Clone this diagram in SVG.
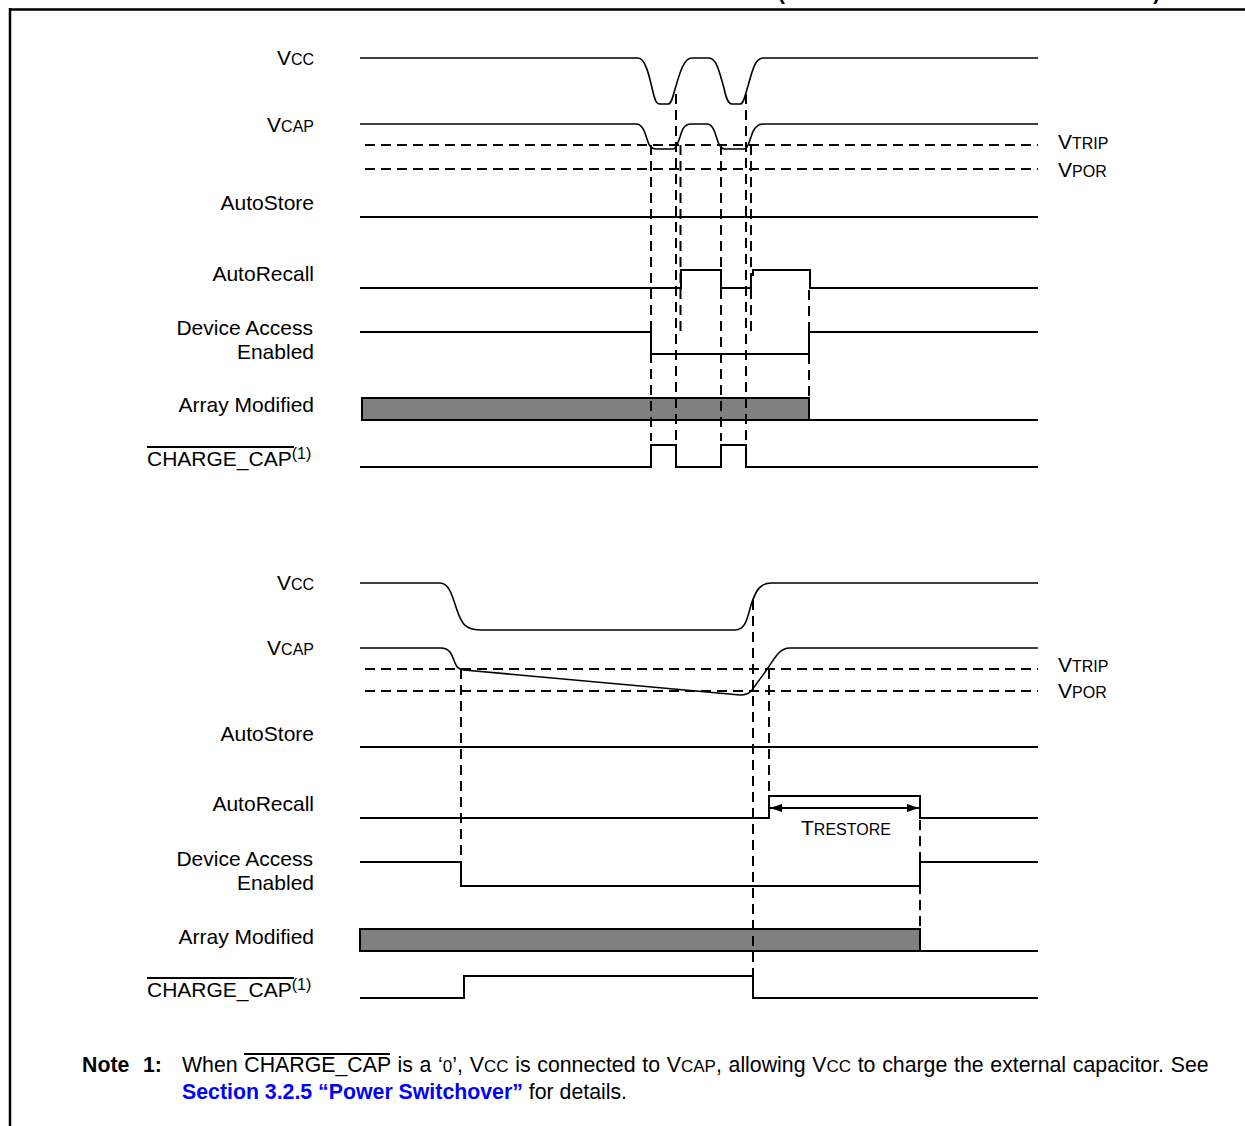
<svg xmlns="http://www.w3.org/2000/svg" width="1245" height="1126" viewBox="0 0 1245 1126">
<style>
text{font-family:"Liberation Sans",Arial,sans-serif;font-size:21px;fill:#000}
.lbl{text-anchor:end}
.sc{font-size:16px}
.w{fill:none;stroke:#000;stroke-width:2}
.cv{fill:none;stroke:#000;stroke-width:1.6}
.dh{fill:none;stroke:#000;stroke-width:2;stroke-dasharray:10 6}
.dv{fill:none;stroke:#000;stroke-width:2;stroke-dasharray:10 6}
.bar{fill:#808080;stroke:#000;stroke-width:2}
.note{font-size:21.3px}
.nsc{font-size:17px}
.b{font-weight:bold}
.blue{fill:#0000ff;font-weight:bold}
</style>
<defs>
<marker id="ah" viewBox="0 0 12 8" refX="12" refY="4" markerWidth="12" markerHeight="8" markerUnits="userSpaceOnUse" orient="auto-start-reverse">
<path d="M0,0 L12,4 L0,8 z" fill="#000"/>
</marker>
</defs>
<rect width="1245" height="1126" fill="#fff"/>
<g id="frame">
<path d="M10,9.5 H1245 M10,8 V1126" fill="none" stroke="#000" stroke-width="2.5"/>
<text x="778" y="0" class="b">(</text>
<text x="1153" y="0" class="b">)</text>
</g>

<!-- labels -->
<g id="labels-top">
<text class="lbl" x="314" y="65">V<tspan class="sc">CC</tspan></text>
<text class="lbl" x="314" y="132">V<tspan class="sc">CAP</tspan></text>
<text class="lbl" x="314" y="210">AutoStore</text>
<text class="lbl" x="314" y="281">AutoRecall</text>
<text class="lbl" x="313" y="335">Device Access</text>
<text class="lbl" x="314" y="359">Enabled</text>
<text class="lbl" x="314" y="412">Array Modified</text>
<text x="147" y="466">CHARGE_CAP<tspan font-size="16" dy="-7">(1)</tspan></text>
<line x1="147" y1="447" x2="294" y2="447" stroke="#000" stroke-width="2"/>
<text x="1058" y="149">V<tspan class="sc">TRIP</tspan></text>
<text x="1058" y="177">V<tspan class="sc">POR</tspan></text>
</g>
<g id="labels-bottom">
<text class="lbl" x="314" y="590">V<tspan class="sc">CC</tspan></text>
<text class="lbl" x="314" y="655">V<tspan class="sc">CAP</tspan></text>
<text class="lbl" x="314" y="741">AutoStore</text>
<text class="lbl" x="314" y="811">AutoRecall</text>
<text class="lbl" x="313" y="866">Device Access</text>
<text class="lbl" x="314" y="890">Enabled</text>
<text class="lbl" x="314" y="944">Array Modified</text>
<text x="147" y="997">CHARGE_CAP<tspan font-size="16" dy="-7">(1)</tspan></text>
<line x1="147" y1="978" x2="294" y2="978" stroke="#000" stroke-width="2"/>
<text x="1058" y="672">V<tspan class="sc">TRIP</tspan></text>
<text x="1058" y="698">V<tspan class="sc">POR</tspan></text>
<text x="801" y="835">T<tspan class="sc">RESTORE</tspan></text>
</g>

<!-- top waveforms -->
<g id="top-vcc"><path class="cv" d="M360,58 H638 C646,58 650,80 653,92 C655,100 656,104 660,104 H668 C672,104 673,95 676,86 C680,72 684,58 692,58 H709 C717,58 720,75 724,88 C726,98 728,104 732,104 H740 C744,104 745,95 748,86 C752,72 755,58 763,58 H1038"/></g>
<g id="top-vcap"><path class="cv" d="M360,124 H636 C643,124 645,133 647,139 C649,146 651,149 656,149 H673 C677,149 678,142 680,137 C682,130 684,124 691,124 H707 C713,124 715,133 717,139 C719,146 721,149 725,149 H744 C748,149 749,142 751,137 C753,130 756,124 763,124 H1038"/></g>
<g id="top-thresholds">
<path class="dh" d="M365,145 H1038"/>
<path class="dh" d="M365,169 H1038"/>
</g>
<g id="top-autostore"><path class="w" d="M360,217 H1038"/></g>
<g id="top-autorecall"><path class="w" d="M360,288 H681 V270 H721 V288 H751 V275 H753 V270 H810 V288 H1038"/></g>
<g id="top-device"><path class="w" d="M360,332 H651 V354 H809 V332 H1038"/></g>
<g id="top-array">
<rect class="bar" x="362" y="398" width="447" height="22"/>
<path class="w" d="M809,420 H1038"/>
</g>
<g id="top-charge"><path class="w" d="M360,467 H651 V445 H676 V467 H721 V445 H746 V467 H1038"/></g>

<!-- bottom waveforms -->
<g id="bot-vcc"><path class="cv" d="M360,583 H440 C449,583 452,595 457,610 C462,625 466,630 482,630 H735 C745,630 747,620 751,605 C756,590 760,583 772,583 H1038"/></g>
<g id="bot-vcap"><path class="cv" d="M360,648 H441 C450,648 452,655 455,663 C457,668 459,669 464,670 L740,695 C746,695 749,694 752,690 L768,668 C775,657 780,648 790,648 H1038"/></g>
<g id="bot-thresholds">
<path class="dh" d="M365,669 H1038"/>
<path class="dh" d="M365,691 H1038"/>
</g>
<g id="bot-autostore"><path class="w" d="M360,747 H1038"/></g>
<g id="bot-autorecall"><path class="w" d="M360,818 H769 V796 H920 V818 H1038"/></g>
<g id="bot-device"><path class="w" d="M360,862 H461 V886 H920 V862 H1038"/></g>
<g id="bot-array">
<rect class="bar" x="360" y="929" width="560" height="22"/>
<path class="w" d="M920,951 H1038"/>
</g>
<g id="bot-charge"><path class="w" d="M360,998 H464 V976 H753 V998 H1038"/></g>

<!-- connectors: timing markers -->
<g id="connectors">
<path class="dv" d="M651,145 V441"/>
<path class="dv" d="M676,94 V441"/>
<path class="dv" d="M680.5,145 V333"/>
<path class="dv" d="M721,145 V441"/>
<path class="dv" d="M746,94 V441"/>
<path class="dv" d="M751,145 V333"/>
<path class="dv" d="M809,290 V398"/>
<path class="dv" d="M461,669 V862"/>
<path class="dv" d="M753,600 V976"/>
<path class="dv" d="M769,669 V796"/>
<path class="dv" d="M920,820 V929"/>
<line x1="770" y1="808" x2="919" y2="808" stroke="#000" stroke-width="2" marker-start="url(#ah)" marker-end="url(#ah)"/>
</g>

<!-- note -->
<g id="note">
<text class="note b" x="82" y="1072">Note</text>
<text class="note b" x="143" y="1072">1:</text>
<text class="note" x="182" y="1072" word-spacing="0.8">When CHARGE_CAP is a ‘<tspan font-size="17">0</tspan>’, V<tspan class="nsc">CC</tspan> is connected to V<tspan class="nsc">CAP</tspan>, allowing V<tspan class="nsc">CC</tspan> to charge the external capacitor. See</text>
<line x1="244" y1="1054" x2="390" y2="1054" stroke="#000" stroke-width="2"/>
<text class="note" x="182" y="1099"><tspan class="blue">Section 3.2.5 “Power Switchover”</tspan> for details.</text>
</g>
</svg>
